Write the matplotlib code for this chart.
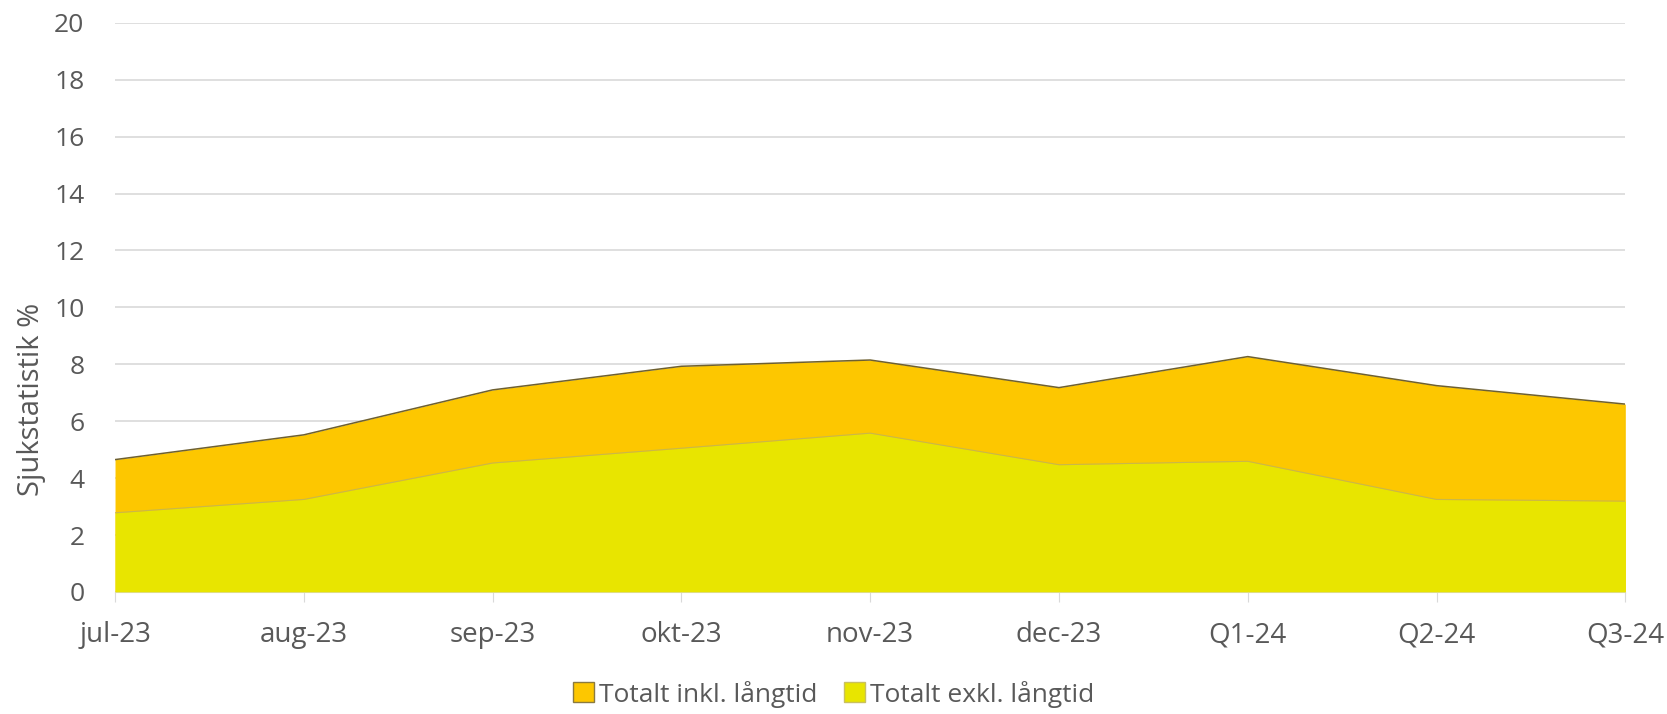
import numpy as np
import matplotlib; matplotlib.use("Agg"); import matplotlib.pyplot as plt
from matplotlib.patches import Patch

categories = ["jul-23", "aug-23", "sep-23", "okt-23", "nov-23", "dec-23", "Q1-24", "Q2-24", "Q3-24"]
inkl = [4.65, 5.52, 7.10, 7.93, 8.15, 7.18, 8.27, 7.25, 6.60]
exkl = [2.78, 3.25, 4.53, 5.05, 5.58, 4.47, 4.59, 3.25, 3.19]

orange = "#FDC700"
yellow = "#E8E500"
txt = "#595959"

plt.rcParams["font.family"] = ["Open Sans", "DejaVu Sans"]
fig = plt.figure(figsize=(16.67, 7.14), dpi=100)
ax = fig.add_axes([0.069, 0.171, 0.906, 0.797])
x = np.arange(len(categories))
ax.fill_between(x, inkl, 0, color=orange, lw=0, zorder=2)
ax.plot(x, inkl, color="#6e6030", lw=1.1, zorder=3)
ax.plot([x[-1], x[-1]], [0, inkl[-1]], color="#b09a40", lw=0.8, zorder=3)
ax.fill_between(x, exkl, 0, color=yellow, lw=0, zorder=4)
ax.plot(x, exkl, color="#c9b84a", lw=0.8, zorder=5)

ax.set_xlim(0, len(categories) - 1)
ax.set_ylim(0, 20)
ax.set_yticks(range(0, 21, 2))
ax.set_xticks(x)
ax.set_xticklabels(categories)
ax.grid(axis="y", color="#d9d9d9", lw=1.2, zorder=0)
for s in ["top", "right", "left"]:
    ax.spines[s].set_visible(False)
ax.spines["bottom"].set_color("#d9d9d9")
ax.tick_params(axis="y", length=0, labelsize=19, labelcolor=txt, pad=22)
ax.tick_params(axis="x", length=7, color="#d9d9d9", labelsize=20, labelcolor=txt, pad=14)
fig.text(0.019, 0.441, "Sjukstatistik %", rotation=90, fontsize=21, color=txt,
         ha="center", va="center")

handles = [Patch(facecolor=orange, edgecolor="#8a7a40", label="Totalt inkl. långtid"),
           Patch(facecolor=yellow, edgecolor="#c9c060", label="Totalt exkl. långtid")]
fig.legend(handles=handles, loc="center", bbox_to_anchor=(0.5, 0.028), ncol=2, frameon=False,
           fontsize=19, labelcolor=txt, handlelength=0.8, handleheight=0.8, handletextpad=0.2,
           columnspacing=1.0)
fig.savefig("out.png", dpi=100)
